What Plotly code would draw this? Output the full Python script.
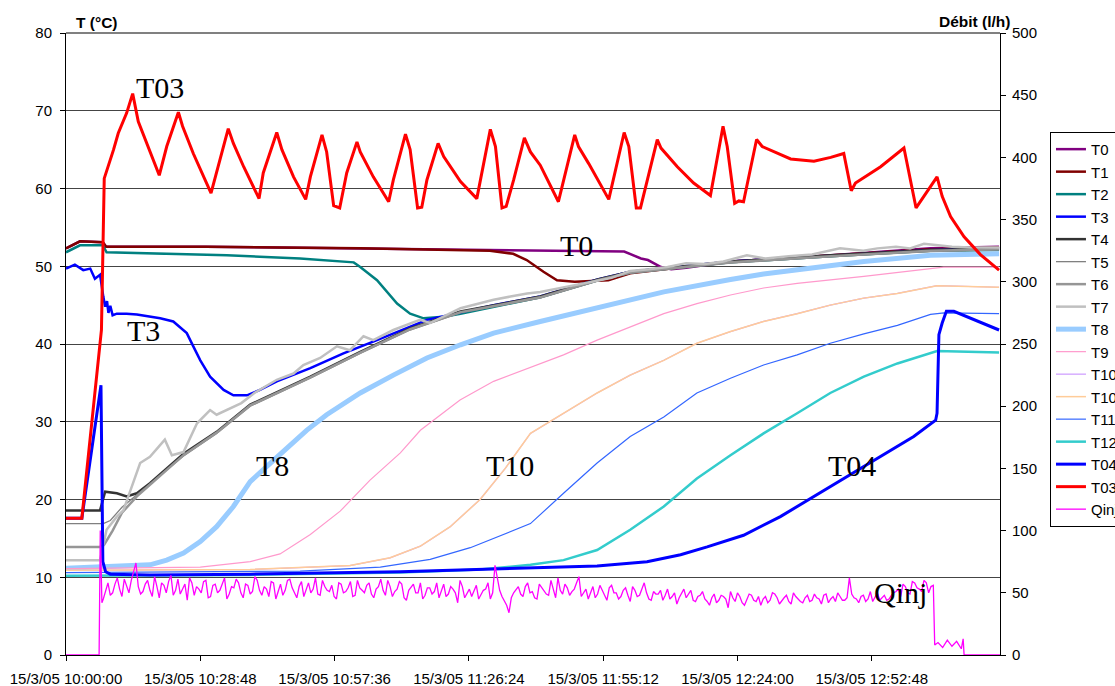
import pandas as pd
import plotly.graph_objects as go

BASE = pd.Timestamp("2005-03-15 10:00:00")

# ---- data (time in minutes after 15/3/05 10:00:00, temperatures in °C) ----
t0_min = [0, 3.0, 7.9, 8.6, 30.0, 63.1, 91.0, 119.7, 123.3, 124.8,
          127.6, 129.8, 133.0, 142.5, 164.0, 185.4, 200.1]
t0_T = [52.3, 53.2, 53.1, 52.5, 52.5, 52.3, 52.1, 51.9, 51.0, 50.8,
        49.9, 49.6, 49.8, 50.6, 51.4, 52.3, 52.5]

t1_min = [0, 3.0, 7.9, 8.6, 30.0, 63.1, 90.9, 95.9, 98.8, 101.7,
          102.4, 105.3, 109.1, 116.3, 121.0, 142.5, 164.0, 185.4, 200.1]
t1_T = [52.3, 53.2, 53.1, 52.5, 52.5, 52.3, 52.0, 51.6, 50.8, 49.5,
        49.3, 48.2, 48.0, 48.2, 49.1, 50.6, 51.4, 52.2, 52.4]

t2_min = [0, 3.0, 7.9, 8.7, 34.5, 50.2, 61.7, 63.1, 66.7, 68.8,
          71.0, 73.8, 76.7, 81.0, 84.6, 101.7, 114.0, 121.0, 142.5, 164.0,
          185.4, 200.1]
t2_T = [51.8, 52.7, 52.7, 51.8, 51.4, 51.0, 50.5, 49.9, 48.2, 46.7,
        45.2, 43.9, 43.3, 43.5, 43.9, 46.0, 48.2, 49.2, 50.5, 51.3,
        52.0, 52.1]

t3_min = [0, 1.9, 3.7, 5.2, 6.2, 7.3, 8.0, 8.4, 8.8, 9.1,
          9.5, 10.0, 10.9, 13.0, 15.2, 20.2, 23.0, 25.9, 27.3, 28.8,
          30.9, 33.8, 35.9, 38.8, 41.6, 45.2, 52.4, 59.5, 66.7, 77.4,
          91.7, 101.7, 114.0, 121.0, 142.5, 164.0, 185.4, 200.1]
t3_T = [49.7, 50.2, 49.5, 49.7, 48.4, 48.9, 46.1, 44.8, 45.5, 44.0,
        44.9, 43.7, 43.9, 43.9, 43.8, 43.3, 42.9, 41.4, 39.7, 37.9,
        35.8, 34.1, 33.4, 33.4, 34.1, 35.2, 36.9, 38.8, 40.5, 43.1,
        45.0, 46.1, 48.3, 49.3, 50.6, 51.4, 52.1, 52.3]

t4_min = [0, 7.3, 8.4, 10.9, 13.0, 15.2, 18.0, 25.2, 32.3, 39.5,
          52.4, 63.1, 73.8, 84.6, 101.7, 114.0, 121.0, 142.5, 164.0, 185.4,
          200.1]
t4_T = [18.6, 18.6, 21.0, 20.8, 20.4, 20.8, 22.1, 25.9, 28.7, 32.2,
        35.8, 39.0, 42.0, 44.2, 46.1, 48.3, 49.3, 50.6, 51.4, 52.1,
        52.3]

t5_min = [0, 7.3, 8.0, 9.5, 12.0, 15.2, 18.0, 25.2, 32.3, 39.5,
          52.4, 63.1, 73.8, 84.6, 101.7, 114.0, 121.0, 142.5, 164.0, 185.4,
          200.1]
t5_T = [16.9, 16.9, 16.9, 17.3, 19.0, 20.6, 22.0, 25.6, 28.5, 32.0,
        35.6, 38.8, 41.8, 44.0, 45.9, 48.1, 49.1, 50.4, 51.2, 51.9,
        52.1]

t6_min = [0, 7.3, 8.2, 10.0, 12.0, 15.2, 18.0, 25.2, 32.3, 39.5,
          52.4, 63.1, 73.8, 84.6, 101.7, 114.0, 121.0, 142.5, 164.0, 185.4,
          200.1]
t6_T = [13.9, 13.9, 14.2, 16.0, 18.3, 20.4, 21.9, 25.7, 28.6, 32.1,
        35.7, 38.9, 41.9, 44.1, 46.0, 48.2, 49.2, 50.5, 51.3, 52.0,
        52.2]

t7_min = [0, 7.3, 8.7, 10.9, 12.3, 15.9, 18.0, 21.2, 22.7, 25.2,
          28.1, 30.9, 32.3, 37.6, 40.4, 45.2, 48.8, 50.9, 54.5, 58.1,
          60.9, 63.8, 65.9, 70.2, 75.9, 78.1, 84.6, 91.7, 95.3, 98.9,
          101.7, 108.0, 113.0, 117.0, 121.0, 125.0, 129.0, 133.0, 137.0, 141.0,
          146.0, 150.0, 155.0, 160.0, 166.0, 171.0, 174.0, 178.0, 181.0, 184.0,
          187.0, 190.0, 194.0, 200.1]
t7_T = [12.2, 12.2, 16.1, 17.8, 18.6, 24.7, 25.5, 27.7, 25.7, 26.1,
        29.8, 31.5, 30.9, 32.4, 33.7, 35.4, 36.2, 37.3, 38.2, 39.7,
        39.2, 41.0, 40.5, 41.8, 43.1, 42.7, 44.6, 45.7, 46.1, 46.5,
        46.7, 47.4, 48.0, 48.5, 49.4, 49.6, 49.9, 50.4, 50.3, 50.6,
        51.4, 51.0, 51.3, 51.5, 52.3, 52.0, 52.3, 52.5, 52.3, 52.9,
        52.7, 52.5, 52.4, 52.4]

t8_min = [0, 14.4, 18.0, 21.6, 25.2, 28.8, 32.3, 35.9, 39.5, 45.9,
          51.6, 55.9, 63.1, 70.2, 77.4, 84.6, 91.7, 101.7, 113.9, 128.2,
          142.5, 149.6, 171.1, 185.4, 200.1]
t8_T = [11.15, 11.4, 11.6, 12.2, 13.1, 14.6, 16.5, 19.1, 22.3, 25.8,
        28.9, 30.9, 33.7, 36.0, 38.2, 39.9, 41.4, 42.9, 44.6, 46.7,
        48.3, 49.0, 50.6, 51.4, 51.6]

t9_min = [0, 28.8, 39.5, 45.9, 52.4, 58.8, 65.2, 71.7, 76.0, 84.5,
          91.7, 99.6, 106.7, 113.9, 121.0, 128.2, 135.3, 142.5, 149.6, 156.8,
          171.1, 188.2, 200.1]
t9_T = [11.1, 11.3, 12.0, 13.0, 15.5, 18.5, 22.5, 26.0, 28.9, 32.8,
        35.2, 37.0, 38.6, 40.5, 42.2, 43.9, 45.2, 46.3, 47.2, 47.8,
        48.7, 49.9, 49.9]

t10a_min = [0, 39.5, 60.9, 69.5, 76.0, 82.4, 88.8, 94.2, 99.6, 106.7,
            113.9, 121.0, 128.2, 135.3, 142.5, 149.6, 156.8, 163.9, 171.1, 178.3,
            186.8, 200.1]
t10a_T = [10.9, 11.0, 11.5, 12.5, 14.0, 16.5, 20.0, 24.0, 28.5, 31.1,
          33.7, 36.0, 37.9, 40.1, 41.6, 42.9, 43.9, 45.0, 45.9, 46.5,
          47.5, 47.3]

t10b_min = [0, 39.5, 60.9, 69.5, 76.0, 82.4, 88.8, 94.2, 99.6, 106.7,
            113.9, 121.0, 128.2, 135.3, 142.5, 149.6, 156.8, 163.9, 171.1, 178.3,
            186.8, 200.1]
t10b_T = [10.9, 11.0, 11.5, 12.5, 14.0, 16.5, 20.0, 24.0, 28.5, 31.1,
          33.7, 36.0, 37.9, 40.1, 41.6, 42.9, 43.9, 45.0, 45.9, 46.5,
          47.5, 47.3]

t11_min = [0, 50.2, 67.4, 78.1, 86.7, 93.1, 99.6, 106.7, 113.9, 121.0,
           128.2, 135.3, 142.5, 149.6, 156.8, 163.9, 171.1, 178.3, 185.4, 188.3,
           200.1]
t11_T = [10.6, 10.8, 11.3, 12.3, 13.8, 15.3, 16.9, 20.8, 24.7, 28.1,
         30.6, 33.7, 35.6, 37.3, 38.6, 40.1, 41.3, 42.4, 43.8, 44.0,
         43.9]

t12_min = [0, 39.5, 71.7, 88.8, 99.6, 106.7, 113.9, 121.0, 128.2, 135.3,
           142.5, 149.6, 156.8, 163.9, 171.1, 178.3, 186.8, 191.8, 200.1]
t12_T = [10.2, 10.3, 10.6, 11.0, 11.6, 12.2, 13.5, 16.1, 19.1, 22.7,
         25.7, 28.5, 31.1, 33.7, 35.8, 37.5, 39.1, 39.0, 38.9]

t04_min = [0, 3.4, 7.5, 7.9, 8.5, 9.5, 18.0, 39.5, 71.7, 99.6,
           113.9, 124.6, 131.8, 137.5, 145.3, 153.2, 160.4, 167.5, 174.7, 181.8,
           186.5, 186.8, 187.2, 187.9, 188.8, 190.4, 200.1]
t04_T = [17.6, 17.6, 34.7, 12.0, 10.7, 10.4, 10.3, 10.4, 10.7, 11.15,
         11.45, 12.0, 12.9, 13.9, 15.4, 17.8, 20.4, 22.9, 25.5, 28.1,
         30.2, 31.1, 41.2, 42.7, 44.2, 44.2, 41.8]

t03_min = [0, 3.4, 7.6, 7.9, 8.2, 10.2, 11.2, 13.0, 14.3, 15.5,
           16.2, 17.7, 20.0, 21.6, 24.1, 25.0, 27.3, 31.1, 32.0, 34.8,
           35.9, 38.1, 41.4, 42.3, 45.2, 46.3, 48.8, 51.4, 52.4, 54.9,
           55.9, 57.4, 58.7, 60.2, 62.4, 63.1, 65.9, 69.2, 70.2, 72.8,
           73.8, 75.4, 76.3, 77.4, 79.8, 81.0, 84.6, 88.1, 91.0, 92.1,
           93.5, 94.4, 96.0, 98.3, 99.6, 101.7, 105.6, 109.1, 109.9, 112.1,
           116.4, 119.7, 120.7, 122.3, 123.2, 126.8, 127.6, 131.1, 134.6, 138.2,
           140.9, 141.8, 143.4, 144.3, 145.3, 148.1, 149.3, 155.4, 160.4, 164.0,
           166.8, 168.4, 169.3, 174.7, 179.7, 182.3, 186.8, 187.9, 189.7, 192.6,
           196.1, 200.1]
t03_T = [17.6, 17.6, 41.8, 54.7, 61.3, 65.0, 67.1, 69.7, 72.2, 68.6,
         67.5, 65.4, 61.7, 65.4, 69.8, 68.0, 64.5, 59.4, 61.5, 67.7,
         65.8, 62.8, 58.7, 62.0, 67.2, 65.0, 61.5, 58.6, 61.5, 66.9,
         64.7, 57.8, 57.5, 62.0, 66.0, 64.7, 61.5, 58.3, 61.1, 67.0,
         65.0, 57.5, 57.6, 61.1, 65.8, 64.1, 60.9, 58.7, 67.6, 65.4,
         57.5, 57.7, 61.1, 66.5, 64.7, 63.0, 58.3, 66.9, 65.4, 63.2,
         58.6, 67.2, 65.4, 57.5, 57.5, 66.3, 65.2, 62.8, 60.7, 59.1,
         68.0, 65.4, 58.1, 58.4, 58.3, 66.3, 65.4, 63.8, 63.5, 64.0,
         64.5, 59.7, 60.7, 62.8, 65.2, 57.5, 61.5, 59.0, 56.4, 53.8,
         51.5, 49.5]

# injection flow rate (l/h), right axis
q_edge_min = [0, 7.1, 7.35, 7.7, 186.3, 187, 188, 189, 190, 191, 192, 192.4, 192.6, 200.3]
q_edge_val = [0, 0, 100, 42, 8, 10, 6, 12, 7, 11, 5, 13, 0, 0]

q_full_min = list(range(8, 187))          # readings on whole minutes
q_full_val = [45, 58, 50, 62, 47, 55, 60, 74, 49, 57,
              52, 63, 46, 56, 59, 48, 61, 53, 44, 58,
              55, 50, 60, 47, 57, 52, 62, 49, 54, 58,
              46, 56, 51, 60, 48, 53, 59, 45, 57, 52,
              61, 50, 55, 47, 58, 53, 49, 60, 52, 56,
              45, 57, 51, 59, 48, 54, 50, 58, 46, 55,
              52, 60, 47, 53, 57, 44, 55, 50, 58, 48,
              54, 51, 46, 57, 49, 53, 42, 55, 50, 47,
              56, 48, 53, 45, 72, 52, 44, 34, 50, 55,
              47, 58, 51, 45, 54, 49, 60, 46, 52, 57,
              48, 53, 63, 50, 45, 55, 49, 52, 44, 56,
              50, 47, 54, 43, 52, 48, 58, 45, 51, 49,
              44, 53, 47, 41, 50, 46, 52, 43, 48, 45,
              40, 49, 44, 47, 38, 46, 50, 42, 45, 48,
              43, 40, 47, 44, 49, 41, 46, 43, 50, 45,
              42, 48, 44, 46, 41, 49, 45, 43, 47, 44,
              62, 46, 42, 48, 45, 43, 50, 46, 44, 48,
              51, 47, 55, 49, 58, 53, 60, 50, 56]

q_half_min = [m + 0.5 for m in range(8, 186)]   # readings on half minutes
q_half_val = [52, 48, 57, 53, 61, 50, 66, 55, 51, 60,
              47, 55, 58, 50, 64, 52, 49, 57, 62, 48,
              53, 59, 46, 56, 50, 58, 45, 55, 61, 50,
              57, 49, 63, 52, 55, 47, 58, 51, 48, 60,
              54, 46, 59, 52, 50, 62, 48, 55, 51, 47,
              58, 50, 54, 47, 60, 52, 56, 49, 53, 61,
              48, 55, 51, 59, 46, 52, 57, 50, 45, 54,
              49, 58, 52, 47, 55, 50, 60, 46, 53, 51,
              45, 52, 58, 50, 61, 47, 40, 46, 53, 49,
              55, 50, 46, 57, 52, 48, 53, 62, 49, 54,
              51, 58, 47, 53, 50, 46, 56, 48, 54, 50,
              45, 52, 48, 55, 47, 53, 50, 44, 49, 52,
              48, 45, 50, 46, 53, 49, 44, 47, 51, 43,
              46, 42, 48, 45, 51, 43, 47, 40, 49, 44,
              47, 45, 42, 50, 46, 44, 48, 41, 47, 43,
              46, 43, 49, 45, 48, 42, 47, 50, 44, 46,
              49, 45, 47, 43, 51, 46, 44, 48, 45, 50,
              53, 57, 50, 59, 54, 51, 58, 55]

tick_min = [0, 28.8, 57.6, 86.4, 115.2, 144.0, 172.8]
x_end_min = 200.3

# ---- helpers ----
def to_time(mins):
    return [BASE + pd.Timedelta(minutes=m) for m in mins]

q_pairs = sorted(zip(q_edge_min + q_full_min + q_half_min,
                     q_edge_val + q_full_val + q_half_val))
q_min = [p[0] for p in q_pairs]
q_val = [p[1] for p in q_pairs]

series = [
    ("T0", t0_min, t0_T, "#800080", 2.5),
    ("T1", t1_min, t1_T, "#800000", 2.5),
    ("T2", t2_min, t2_T, "#008080", 2.5),
    ("T3", t3_min, t3_T, "#0000FF", 2.5),
    ("T4", t4_min, t4_T, "#333333", 2.5),
    ("T5", t5_min, t5_T, "#808080", 1.3),
    ("T6", t6_min, t6_T, "#969696", 2.5),
    ("T7", t7_min, t7_T, "#C0C0C0", 2.5),
    ("T8", t8_min, t8_T, "#99CCFF", 5),
    ("T9", t9_min, t9_T, "#FF99CC", 1.2),
    ("T10", t10a_min, t10a_T, "#CC99FF", 1.2),
    ("T10", t10b_min, t10b_T, "#FFCC99", 1.5),
    ("T11", t11_min, t11_T, "#3366FF", 1.2),
    ("T12", t12_min, t12_T, "#33CCCC", 2.5),
    ("T04", t04_min, t04_T, "#0000FF", 3),
    ("T03", t03_min, t03_T, "#FF0000", 3),
]

fig = go.Figure()
for i, (name, mins, vals, color, width) in enumerate(series):
    fig.add_trace(go.Scatter(
        x=to_time(mins), y=vals, mode="lines", name=name,
        legendgroup="g%d" % i,
        line=dict(color=color, width=width), yaxis="y"))

fig.add_trace(go.Scatter(
    x=to_time(q_min), y=q_val, mode="lines", name="Qinj",
    legendgroup="gq",
    line=dict(color="#FF00FF", width=1.3), yaxis="y2"))

# curve labels
labels = [("T03", 20.2, 73.0), ("T0", 109.4, 52.7), ("T3", 16.7, 41.8),
          ("T8", 44.2, 24.4), ("T10", 95.3, 24.4), ("T04", 168.5, 24.4),
          ("Qinj", 179.0, 8.0)]
for txt, m, v in labels:
    fig.add_annotation(x=BASE + pd.Timedelta(minutes=m), y=v, xref="x", yref="y",
                       text=txt, showarrow=False,
                       font=dict(family="Liberation Serif, Times New Roman, serif",
                                 size=30, color="black"))

title_font = dict(family="Liberation Sans, Arial", size=15.5, color="black")
fig.add_annotation(x=0.0086, y=1.0169, xref="paper", yref="paper", xanchor="left",
                   yanchor="middle", text="<b>T (°C)</b>", showarrow=False,
                   font=title_font)
fig.add_annotation(x=1.0128, y=1.0185, xref="paper", yref="paper", xanchor="right",
                   yanchor="middle", text="<b>Débit (l/h)</b>", showarrow=False,
                   font=title_font)

# grey top border of the plot area
fig.add_shape(type="line", xref="paper", yref="paper", x0=0, x1=1, y0=1, y1=1,
              line=dict(color="#808080", width=2))

tick_font = dict(family="Liberation Sans, Arial", size=15, color="black")
fig.update_layout(
    width=1115, height=686,
    margin=dict(l=66, r=115, t=33, b=31, autoexpand=False),
    paper_bgcolor="white", plot_bgcolor="white",
    font=dict(family="Liberation Sans, Arial", size=15, color="black"),
    showlegend=True,
    legend=dict(x=1.0535, y=0.841, xanchor="left", yanchor="top",
                bordercolor="black", borderwidth=1, bgcolor="white",
                font=dict(family="Liberation Sans, Arial", size=15, color="black"),
                tracegroupgap=4, traceorder="normal"),
    xaxis=dict(type="date",
               range=[BASE, BASE + pd.Timedelta(minutes=x_end_min)],
               tickvals=to_time(tick_min),
               ticktext=[(BASE + pd.Timedelta(minutes=m)).strftime("15/3/05 %H:%M:%S")
                         for m in tick_min],
               ticks="outside", ticklen=5, tickcolor="black",
               showline=True, linecolor="black", linewidth=1,
               showgrid=False, zeroline=False, tickfont=tick_font,
               ticklabelstandoff=5),
    yaxis=dict(range=[0, 80], dtick=10, ticks="outside", ticklen=5, tickcolor="black",
               showline=True, linecolor="black", linewidth=1,
               showgrid=True, gridcolor="#444444", gridwidth=1, zeroline=False,
               tickfont=tick_font, ticklabelstandoff=5),
    yaxis2=dict(range=[0, 500], dtick=50, overlaying="y", side="right",
                ticks="outside", ticklen=5, tickcolor="black",
                showline=True, linecolor="black", linewidth=1,
                showgrid=False, zeroline=False, tickfont=tick_font,
                ticklabelstandoff=3),
)

fig.write_html(
    "out.html",
    config={"displayModeBar": False},
    post_script=("document.body.style.margin='0';"
                 "document.body.style.overflow='hidden';"
                 "document.documentElement.style.overflow='hidden';"),
)
